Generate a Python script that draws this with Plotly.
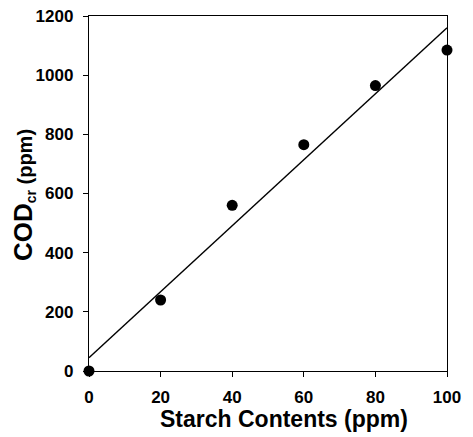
import numpy as np
import plotly.graph_objects as go

starch = [0, 20, 40, 60, 80, 100]
cod = [0, 240, 560, 765, 965, 1085]
x_ticks = [0, 20, 40, 60, 80, 100]
y_ticks = [0, 200, 400, 600, 800, 1000, 1200]

slope, intercept = np.polyfit(starch, cod, 1)
fit_x = [min(starch), max(starch)]
fit_y = [slope * v + intercept for v in fit_x]

fig = go.Figure()
fig.add_trace(go.Scatter(x=fit_x, y=fit_y, mode="lines",
                         line=dict(color="black", width=1.3), showlegend=False))
fig.add_trace(go.Scatter(x=starch, y=cod, mode="markers",
                         marker=dict(color="black", size=11), showlegend=False,
                         cliponaxis=False))

font = dict(family="Liberation Sans, Arial, sans-serif", color="black")
axis_common = dict(ticks="outside", ticklen=5, tickwidth=1.2, tickcolor="black",
                   showline=True, linecolor="black", linewidth=1.3, mirror=True,
                   showgrid=False, zeroline=False, automargin=False,
                   ticklabeloverflow="allow",
                   tickfont=dict(size=17, **font))
fig.update_layout(
    width=465, height=429,
    margin=dict(l=81, r=26, t=8, b=66),
    plot_bgcolor="white", paper_bgcolor="white",
    font=font,
    xaxis=dict(range=[0, 100], tickvals=x_ticks,
               ticktext=[f"<b>{v}</b>" for v in x_ticks],
               ticklabelstandoff=5, **axis_common),
    yaxis=dict(range=[0, 1200], tickvals=y_ticks,
               ticktext=[f"<b>{v}</b>" for v in y_ticks],
               ticklabelstandoff=6, **axis_common),
    annotations=[
        dict(text="<b>Starch Contents (ppm)</b>", xref="paper", yref="paper",
             x=0.545, y=-0.136, xanchor="center", yanchor="middle",
             showarrow=False, font=dict(size=23, **font)),
        dict(text="<b><span style='font-size:26px'>COD</span><sub>cr</sub> (ppm)</b>",
             xref="paper", yref="paper", x=-0.183, y=0.497,
             xanchor="center", yanchor="middle", textangle=-90,
             showarrow=False, font=dict(size=20, **font)),
    ],
)
fig.write_html("out.html")
